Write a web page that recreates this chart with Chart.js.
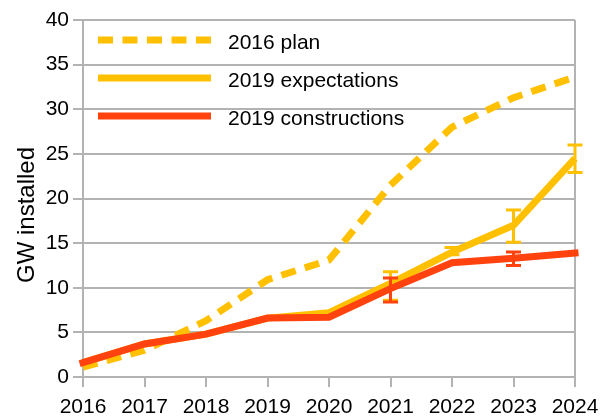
<!DOCTYPE html>
<html>
<head>
<meta charset="utf-8">
<script src="https://cdn.jsdelivr.net/npm/chart.js@4/dist/chart.umd.min.js"></script>
<style>
html,body{margin:0;padding:0;background:#fff;}
canvas{display:block;}
</style>
</head>
<body>
<canvas id="c" width="609" height="418"></canvas>
<script>
const years = ['2016','2017','2018','2019','2020','2021','2022','2023','2024'];
const plan2016 = [1.1, 3.0, 6.3, 10.9, 13.1, 21.5, 28.0, 31.3, 33.6];
const expect2019 = [1.6, 3.7, 4.8, 6.6, 7.2, 10.5, 14.0, 17.0, 24.5];
const constr2019 = [1.6, 3.7, 4.8, 6.6, 6.7, 9.9, 12.8, 13.3, 13.9];
const expectLow  = [null, null, null, null, null, 8.6, 13.7, 15.1, 22.9];
const expectHigh = [null, null, null, null, null, 11.8, 14.5, 18.7, 26.0];
const constrLow  = [null, null, null, null, null, 8.4, null, 12.5, null];
const constrHigh = [null, null, null, null, null, 11.1, null, 14.0, null];
const yTicks = [0, 5, 10, 15, 20, 25, 30, 35, 40];
const yTitle = 'GW installed';

const GOLD = '#FFC000';
const RED = '#FF420E';
const GRID = '#b3b3b3';
const FONT = "'Liberation Sans', Arial, sans-serif";

const errorBars = {
  id: 'errorBars',
  afterDatasetDraw(chart, args) {
    const ds = chart.data.datasets[args.index];
    if (!ds.errLow) return;
    const ctx = chart.ctx;
    const ys = chart.scales.y;
    ctx.save();
    ctx.strokeStyle = ds.borderColor;
    ctx.lineWidth = 3;
    ctx.lineCap = 'butt';
    args.meta.data.forEach((pt, i) => {
      const lo = ds.errLow[i], hi = ds.errHigh[i];
      if (lo == null || hi == null) return;
      const x = pt.x;
      const yl = ys.getPixelForValue(lo), yh = ys.getPixelForValue(hi);
      ctx.beginPath();
      ctx.moveTo(x, yl); ctx.lineTo(x, yh);
      ctx.moveTo(x - 7.5, yl); ctx.lineTo(x + 7.5, yl);
      ctx.moveTo(x - 7.5, yh); ctx.lineTo(x + 7.5, yh);
      ctx.stroke();
    });
    ctx.restore();
  }
};

const customLegend = {
  id: 'customLegend',
  afterDraw(chart) {
    const ctx = chart.ctx;
    const rows = [40, 78, 116];
    ctx.save();
    chart.data.datasets.forEach((ds, i) => {
      const y = rows[i];
      ctx.beginPath();
      ctx.strokeStyle = ds.borderColor;
      ctx.lineWidth = 7;
      ctx.lineCap = 'butt';
      ctx.setLineDash(ds.borderDash || []);
      ctx.moveTo(98, y); ctx.lineTo(211, y);
      ctx.stroke();
      ctx.setLineDash([]);
      ctx.fillStyle = '#000';
      ctx.font = '21px ' + FONT;
      ctx.textAlign = 'left';
      ctx.textBaseline = 'alphabetic';
      ctx.fillText(ds.label, 228, y + 9);
    });
    // y-axis title
    ctx.translate(34, 215);
    ctx.rotate(-Math.PI / 2);
    ctx.font = '24px ' + FONT;
    ctx.textAlign = 'center';
    ctx.textBaseline = 'alphabetic';
    ctx.fillText(yTitle, 0, 0);
    ctx.restore();
  }
};

new Chart(document.getElementById('c'), {
  type: 'line',
  data: {
    labels: years,
    datasets: [
      {label: '2016 plan', data: plan2016, borderColor: GOLD, borderWidth: 7, borderDash: [15, 9.5],
       pointRadius: 0, tension: 0, order: 3, clip: false},
      {label: '2019 expectations', data: expect2019, borderColor: GOLD, borderWidth: 7,
       pointRadius: 0, tension: 0, order: 2, clip: false, errLow: expectLow, errHigh: expectHigh},
      {label: '2019 constructions', data: constr2019, borderColor: RED, borderWidth: 7, borderCapStyle: 'square',
       pointRadius: 0, tension: 0, order: 1, clip: false, errLow: constrLow, errHigh: constrHigh}
    ]
  },
  options: {
    responsive: false,
    devicePixelRatio: 1,
    animation: false,
    layout: {padding: {top: 20, right: 34, left: 0, bottom: 0}},
    plugins: {legend: {display: false}, tooltip: {enabled: false}},
    scales: {
      x: {
        type: 'category',
        offset: false,
        grid: {
          color: (c) => (c.index === years.length - 1 ? GRID : 'rgba(0,0,0,0)'),
          tickColor: GRID, lineWidth: 2, tickLength: 10, drawOnChartArea: true
        },
        border: {display: true, color: GRID, width: 2},
        ticks: {font: {family: FONT, size: 21}, color: '#000', padding: 8, maxRotation: 0, autoSkip: false},
        afterFit: (s) => { s.height = 41; }
      },
      y: {
        min: 0, max: 40,
        afterBuildTicks: (s) => { s.ticks = yTicks.map(v => ({value: v})); },
        grid: {color: GRID, lineWidth: 2, tickLength: 10, tickColor: GRID},
        border: {display: true, color: GRID, width: 2},
        ticks: {font: {family: FONT, size: 21}, color: '#000', padding: 4},
        title: {display: false},
        afterFit: (s) => { s.width = 83; }
      }
    }
  },
  plugins: [errorBars, customLegend]
});
</script>
</body>
</html>
